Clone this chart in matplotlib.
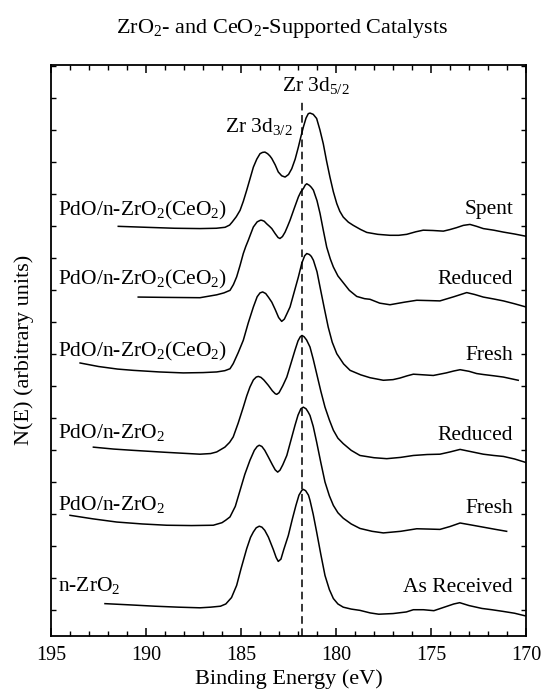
import matplotlib
matplotlib.use("Agg")
import matplotlib.pyplot as plt
from matplotlib.ticker import MultipleLocator, NullFormatter

plt.rcParams['font.family'] = ['Liberation Serif', 'DejaVu Serif']
plt.rcParams['mathtext.fontset'] = 'custom'
plt.rcParams['mathtext.rm'] = 'Liberation Serif'
plt.rcParams['mathtext.it'] = 'Liberation Serif:italic'

# Zr 3d spectra, stacked (binding energy in eV, offset intensity)
e_spent = [191.46, 190.0, 188.5, 187.16, 186.3, 185.84, 185.6, 185.47, 185.25, 185.05,
           184.88, 184.70, 184.52, 184.35, 184.17, 184.0, 183.87, 183.74, 183.6, 183.48,
           183.38, 183.2, 183.04, 182.86, 182.68, 182.5, 182.33, 182.15, 181.98, 181.85,
           181.72, 181.58, 181.46, 181.37, 181.2, 181.02, 180.85, 180.67, 180.5, 180.32,
           180.14, 179.96, 179.8, 179.62, 179.35, 179.09, 178.7, 178.38, 177.8, 177.16,
           176.7, 176.28, 175.8, 175.41, 174.9, 174.35, 174.0, 173.65, 173.3, 172.95,
           172.6, 172.25, 171.7, 171.19, 170.6, 170.0]
i_spent = [12.0, 11.97, 11.94, 11.93, 11.94, 11.97, 12.04, 12.13, 12.3, 12.5,
           12.78, 13.13, 13.5, 13.85, 14.1, 14.27, 14.31, 14.32, 14.27, 14.2,
           14.12, 13.92, 13.7, 13.58, 13.54, 13.62, 13.8, 14.1, 14.48, 14.8,
           15.1, 15.38, 15.52, 15.54, 15.5, 15.37, 15.02, 14.58, 14.05, 13.54,
           13.08, 12.71, 12.47, 12.29, 12.13, 12.03, 11.9, 11.81, 11.75, 11.72,
           11.72, 11.75, 11.83, 11.88, 11.87, 11.85, 11.9, 11.96, 12.03, 12.06,
           12.0, 11.93, 11.88, 11.82, 11.76, 11.69]

e_red_ce = [190.41, 189.0, 187.16, 186.28, 185.9, 185.58, 185.4, 185.23, 185.05, 184.88,
            184.75, 184.62, 184.48, 184.35, 184.15, 183.98, 183.91, 183.78, 183.65, 183.5,
            183.38, 183.2, 183.05, 182.95, 182.82, 182.68, 182.55, 182.42, 182.2, 181.98,
            181.85, 181.72, 181.62, 181.54, 181.4, 181.3, 181.19, 181.0, 180.84, 180.67,
            180.49, 180.3, 180.14, 179.9, 179.62, 179.3, 178.91, 178.5, 178.21, 177.7,
            177.16, 176.4, 175.75, 175.1, 174.53, 173.8, 173.12, 172.7, 172.25, 171.7,
            171.19, 170.6, 170.0]
i_red_ce = [9.79, 9.78, 9.77, 9.86, 9.92, 10.0, 10.18, 10.42, 10.78, 11.15,
            11.37, 11.56, 11.78, 11.98, 12.14, 12.19, 12.19, 12.16, 12.08, 12.0,
            11.93, 11.77, 11.65, 11.62, 11.68, 11.82, 12.0, 12.19, 12.56, 12.92,
            13.08, 13.18, 13.29, 13.33, 13.28, 13.22, 13.13, 12.8, 12.4, 11.88,
            11.35, 10.98, 10.73, 10.45, 10.24, 10.0, 9.81, 9.74, 9.72, 9.6,
            9.55, 9.63, 9.69, 9.68, 9.67, 9.8, 9.93, 9.87, 9.79, 9.73,
            9.67, 9.58, 9.48]

e_fresh_ce = [193.47, 192.5, 191.5, 190.67, 189.3, 188.04, 187.0, 186.28, 185.85, 185.58,
              185.41, 185.15, 184.88, 184.62, 184.35, 184.15, 184.0, 183.86, 183.7, 183.55,
              183.38, 183.2, 183.02, 182.86, 182.72, 182.6, 182.42, 182.2, 181.98, 181.8,
              181.65, 181.54, 181.4, 181.3, 181.19, 181.0, 180.84, 180.62, 180.41, 180.2,
              179.96, 179.6, 179.26, 178.7, 178.21, 177.51, 177.0, 176.63, 176.25, 175.93,
              175.4, 174.88, 174.2, 173.8, 173.47, 173.0, 172.6, 172.25, 171.7, 171.19,
              170.8, 170.41]
i_fresh_ce = [7.73, 7.62, 7.54, 7.5, 7.45, 7.42, 7.43, 7.45, 7.49, 7.55,
              7.71, 8.05, 8.44, 8.98, 9.48, 9.8, 9.92, 9.95, 9.9, 9.78,
              9.63, 9.4, 9.15, 9.03, 9.1, 9.25, 9.48, 9.95, 10.42, 10.85,
              11.08, 11.15, 11.12, 11.06, 10.94, 10.58, 10.1, 9.45, 8.85, 8.38,
              8.02, 7.7, 7.5, 7.36, 7.27, 7.19, 7.21, 7.26, 7.33, 7.38,
              7.36, 7.34, 7.42, 7.48, 7.52, 7.47, 7.4, 7.37, 7.33, 7.29,
              7.24, 7.19]

e_red_zr = [192.77, 191.7, 190.67, 189.0, 187.16, 186.6, 186.28, 185.85, 185.6, 185.41,
            185.15, 184.88, 184.7, 184.53, 184.35, 184.2, 184.09, 183.95, 183.8, 183.56,
            183.35, 183.2, 183.12, 183.0, 182.8, 182.59, 182.38, 182.16, 182.0, 181.88,
            181.79, 181.68, 181.55, 181.37, 181.2, 181.02, 180.8, 180.58, 180.35, 180.14,
            179.9, 179.62, 179.2, 178.74, 178.0, 177.33, 176.6, 175.93, 175.2, 174.53,
            174.0, 173.47, 172.9, 172.25, 171.7, 171.19, 170.6, 170.0]
i_red_zr = [5.1, 5.04, 5.0, 4.94, 4.88, 4.9, 4.95, 5.1, 5.25, 5.42,
            5.85, 6.35, 6.7, 6.98, 7.2, 7.29, 7.31, 7.28, 7.2, 7.03,
            6.86, 6.77, 6.75, 6.8, 7.02, 7.29, 7.7, 8.13, 8.42, 8.55,
            8.59, 8.55, 8.45, 8.23, 7.85, 7.4, 6.85, 6.35, 5.95, 5.63,
            5.38, 5.21, 5.0, 4.84, 4.77, 4.74, 4.78, 4.84, 4.87, 4.88,
            4.95, 5.03, 4.96, 4.88, 4.84, 4.81, 4.73, 4.62]

e_fresh_zr = [194.0, 192.8, 191.54, 190.2, 188.91, 187.6, 186.46, 186.0, 185.8, 185.58,
              185.3, 185.05, 184.8, 184.53, 184.3, 184.15, 184.04, 183.9, 183.75, 183.56,
              183.35, 183.2, 183.07, 182.95, 182.8, 182.59, 182.38, 182.16, 182.0, 181.85,
              181.72, 181.58, 181.47, 181.37, 181.2, 181.02, 180.8, 180.58, 180.35, 180.14,
              179.9, 179.62, 179.2, 178.74, 178.1, 177.51, 176.6, 175.75, 175.1, 174.53,
              174.0, 173.47, 172.9, 172.25, 171.6, 171.02]
i_fresh_zr = [2.97, 2.86, 2.76, 2.7, 2.66, 2.65, 2.66, 2.74, 2.82, 2.92,
              3.25, 3.75, 4.25, 4.69, 5.0, 5.12, 5.16, 5.12, 5.0, 4.79,
              4.55, 4.39, 4.32, 4.38, 4.55, 4.84, 5.3, 5.78, 6.1, 6.3,
              6.35, 6.3, 6.2, 6.09, 5.75, 5.26, 4.62, 4.01, 3.58, 3.28,
              3.05, 2.88, 2.7, 2.56, 2.47, 2.42, 2.47, 2.55, 2.54, 2.53,
              2.62, 2.73, 2.67, 2.6, 2.53, 2.47]

e_asrec = [192.16, 190.8, 189.53, 188.3, 187.16, 186.6, 186.08, 185.8, 185.5, 185.23,
           185.0, 184.7, 184.5, 184.35, 184.2, 184.04, 183.9, 183.75, 183.56, 183.3,
           183.15, 183.04, 182.9, 182.75, 182.51, 182.3, 182.11, 181.95, 181.8, 181.72,
           181.6, 181.45, 181.37, 181.2, 181.02, 180.8, 180.58, 180.35, 180.14, 179.9,
           179.62, 179.2, 178.74, 178.2, 177.75, 177.0, 176.3, 175.93, 175.4, 174.85,
           174.2, 173.8, 173.49, 173.0, 172.32, 171.8, 171.23, 170.6, 170.05]
i_asrec = [0.21, 0.17, 0.13, 0.1, 0.08, 0.1, 0.13, 0.2, 0.4, 0.78,
           1.3, 1.93, 2.28, 2.45, 2.58, 2.63, 2.6, 2.5, 2.29, 1.9,
           1.65, 1.53, 1.6, 1.9, 2.34, 2.85, 3.28, 3.6, 3.75, 3.78,
           3.74, 3.6, 3.44, 3.0, 2.45, 1.75, 1.09, 0.65, 0.37, 0.2,
           0.1, 0.04, 0.0, -0.08, -0.12, -0.1, -0.05, 0.02, 0.02, -0.01,
           0.12, 0.2, 0.24, 0.15, 0.06, 0.02, -0.03, -0.09, -0.17]

energies = [e_spent, e_red_ce, e_fresh_ce, e_red_zr, e_fresh_zr, e_asrec]
intensities = [i_spent, i_red_ce, i_fresh_ce, i_red_zr, i_fresh_zr, i_asrec]

samples = ['PdO/n-ZrO$_2$(CeO$_2$)', 'PdO/n-ZrO$_2$(CeO$_2$)', 'PdO/n-ZrO$_2$(CeO$_2$)',
           'PdO/n-ZrO$_2$', 'PdO/n-ZrO$_2$', 'n-ZrO$_2$']
treatments = ['Spent', 'Reduced', 'Fresh', 'Reduced', 'Fresh', 'As Received']
sample_y = [12.34, 10.19, 7.94, 5.40, 3.15, 0.59]
treatment_y = [12.40, 10.21, 7.81, 5.31, 3.04, 0.56]

zr_3d52 = 181.8

fig = plt.figure(figsize=(5.41, 6.93), dpi=100)
ax = fig.add_axes([0.0943, 0.0823, 0.878, 0.8243])

for e, i in zip(energies, intensities):
    ax.plot(e, i, color='black', lw=1.1, solid_joinstyle='round')

ax.vlines(zr_3d52, -0.8, 15.9, colors='black', linestyles=(0, (5, 3)), lw=1.1)

for lab, y in zip(samples, sample_y):
    ax.text(194.63, y, lab, fontsize=15.5, ha='left', va='baseline')
for lab, y in zip(treatments, treatment_y):
    ax.text(170.68, y, lab, fontsize=15.5, ha='right', va='baseline')

ax.text(182.84, 16.22, 'Zr 3d$_{5/2}$', fontsize=15.5, ha='left', va='baseline')
ax.text(185.84, 14.95, 'Zr 3d$_{3/2}$', fontsize=15.5, ha='left', va='baseline')

ax.set_xlim(195, 170)
ax.set_ylim(-0.8, 17.05)
ax.xaxis.set_major_locator(MultipleLocator(5))
ax.xaxis.set_minor_locator(MultipleLocator(1))
ax.yaxis.set_major_locator(MultipleLocator(1))
ax.yaxis.set_major_formatter(NullFormatter())
ax.tick_params(axis='x', which='major', direction='in', length=6, width=1.1,
               top=True, labelsize=14.5, pad=7)
ax.tick_params(axis='x', which='minor', direction='in', length=3.5, width=1.0, top=True)
ax.tick_params(axis='y', which='major', direction='in', length=3.5, width=1.0, right=True)
for s in ax.spines.values():
    s.set_linewidth(1.3)

ax.set_xlabel('Binding Energy (eV)', fontsize=16, labelpad=3)
ax.set_ylabel('N(E) (arbitrary units)', fontsize=16, labelpad=9)
ax.set_title('ZrO$_2$- and CeO$_2$-Supported Catalysts', fontsize=16, pad=23, x=0.486)

fig.savefig('out.png', dpi=100)
